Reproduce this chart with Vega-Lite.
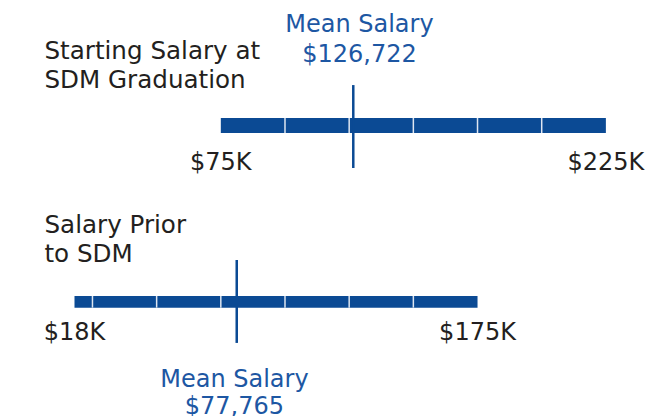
{
  "$schema": "https://vega.github.io/schema/vega-lite/v6.json",
  "width": 645,
  "height": 416,
  "autosize": {"type": "none"},
  "padding": 0,
  "background": "white",
  "config": {"view": {"stroke": null}},
  "datasets": {
    "bars": [
      {"bar": "Starting Salary at SDM Graduation", "start": 75000, "end": 225000, "lo": 0.9575, "hi": 1.0425},
      {"bar": "Salary Prior to SDM", "start": 18000, "end": 175000, "lo": 1.966, "hi": 2.032}
    ],
    "dividers": [
      {"v": 100000, "lo": 0.9575, "hi": 1.0425},
      {"v": 125000, "lo": 0.9575, "hi": 1.0425},
      {"v": 150000, "lo": 0.9575, "hi": 1.0425},
      {"v": 175000, "lo": 0.9575, "hi": 1.0425},
      {"v": 200000, "lo": 0.9575, "hi": 1.0425},
      {"v": 25000, "lo": 1.966, "hi": 2.032},
      {"v": 50000, "lo": 1.966, "hi": 2.032},
      {"v": 75000, "lo": 1.966, "hi": 2.032},
      {"v": 100000, "lo": 1.966, "hi": 2.032},
      {"v": 125000, "lo": 1.966, "hi": 2.032},
      {"v": 150000, "lo": 1.966, "hi": 2.032}
    ],
    "means": [
      {"bar": "Starting Salary at SDM Graduation", "mean": 126722, "pos": 126600, "top": 0.771, "bottom": 1.241},
      {"bar": "Salary Prior to SDM", "mean": 77765, "pos": 81200, "top": 1.762, "bottom": 2.232}
    ],
    "titles": [
      {"label": "Starting Salary at\nSDM Graduation", "x": 6300, "y": 0.625},
      {"label": "Salary Prior\nto SDM", "x": 6300, "y": 1.611}
    ],
    "ends": [
      {"label": "$75K", "x": 75000, "y": 1.255},
      {"label": "$225K", "x": 225000, "y": 1.255},
      {"label": "$18K", "x": 18000, "y": 2.215},
      {"label": "$175K", "x": 175000, "y": 2.215}
    ],
    "meanLabels": [
      {"label": "Mean Salary", "x": 129000, "y": 0.4686},
      {"label": "$126,722", "x": 129000, "y": 0.6386},
      {"label": "Mean Salary", "x": 80300, "y": 2.4799},
      {"label": "$77,765", "x": 80300, "y": 2.6346}
    ]
  },
  "layer": [
    {
      "data": {"name": "bars"},
      "mark": {"type": "rect", "color": "#0b4a94"},
      "encoding": {
        "x": {"field": "start", "type": "quantitative", "scale": {"domain": [-11020, 240240], "nice": false, "zero": false}, "axis": null},
        "x2": {"field": "end"},
        "y": {"field": "lo", "type": "quantitative", "scale": {"domain": [0.289, 2.646], "nice": false, "zero": false, "reverse": true}, "axis": null},
        "y2": {"field": "hi"}
      }
    },
    {
      "data": {"name": "dividers"},
      "mark": {"type": "rule", "color": "#dfe6f1", "strokeWidth": 1.5},
      "encoding": {
        "x": {"field": "v", "type": "quantitative"},
        "y": {"field": "lo", "type": "quantitative"},
        "y2": {"field": "hi"}
      }
    },
    {
      "data": {"name": "means"},
      "mark": {"type": "rule", "color": "#0b4a94", "strokeWidth": 2.5},
      "encoding": {
        "x": {"field": "pos", "type": "quantitative"},
        "y": {"field": "top", "type": "quantitative"},
        "y2": {"field": "bottom"}
      }
    },
    {
      "data": {"name": "titles"},
      "mark": {"type": "text", "align": "left", "baseline": "alphabetic", "font": "DejaVu Sans", "fontSize": 24.6, "lineHeight": 29, "color": "#231f20", "lineBreak": "\n"},
      "encoding": {
        "x": {"field": "x", "type": "quantitative"},
        "y": {"field": "y", "type": "quantitative"},
        "text": {"field": "label"}
      }
    },
    {
      "data": {"name": "ends"},
      "mark": {"type": "text", "align": "center", "baseline": "alphabetic", "font": "DejaVu Sans", "fontSize": 24, "color": "#231f20"},
      "encoding": {
        "x": {"field": "x", "type": "quantitative"},
        "y": {"field": "y", "type": "quantitative"},
        "text": {"field": "label"}
      }
    },
    {
      "data": {"name": "meanLabels"},
      "mark": {"type": "text", "align": "center", "baseline": "alphabetic", "font": "DejaVu Sans", "fontSize": 24, "color": "#1d57a3"},
      "encoding": {
        "x": {"field": "x", "type": "quantitative"},
        "y": {"field": "y", "type": "quantitative"},
        "text": {"field": "label"}
      }
    }
  ]
}
